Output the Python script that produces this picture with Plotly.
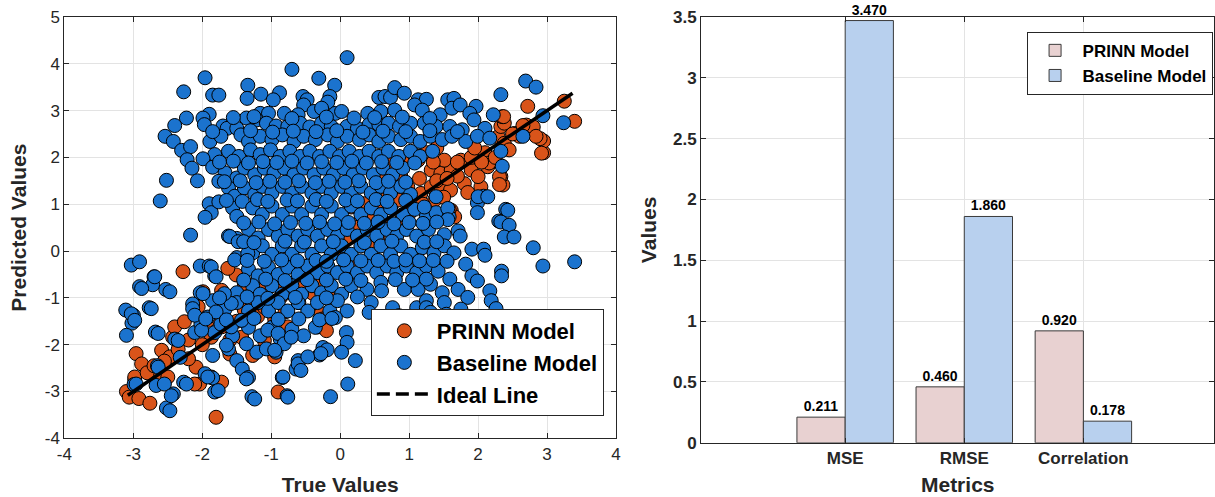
import plotly.graph_objects as go

# ---------------- Data ----------------
# PRINN model scatter points (true, predicted)
prinn_points = [
    (-3.10, -3.00), (-3.06, -3.12), (-2.98, -2.75), (-2.96, -2.19), (-2.88, -2.41), (-2.92, -3.15),
    (-2.76, -3.25), (-2.98, -2.69), (-2.64, -2.69), (-2.50, -2.69), (-2.59, -2.12), (-2.47, -2.26),
    (-2.43, -1.84), (-2.40, -1.62), (-2.26, -1.51), (-2.28, -0.44), (-2.09, -2.48), (-2.04, -2.84),
    (-2.11, -2.84), (-1.87, -2.69), (-1.72, -2.80), (-1.80, -3.55), (-0.90, -3.01), (-1.27, -2.23),
    (-0.95, -2.26), (-1.58, -1.05), (-1.39, -1.26), (-1.29, -1.23), (-1.14, -0.84), (-1.05, -0.41),
    (-1.00, -0.62), (-0.42, -0.26), (-0.52, -0.76), (-0.28, -1.34), (-0.32, -1.62), (-0.76, -1.62),
    (-1.10, -1.91), (-1.43, -1.84), (-1.72, -1.62), (-1.87, -1.84), (-1.92, -1.48), (-2.06, -1.19),
    (-1.72, -0.84), (-1.99, -0.87), (-1.39, -0.69), (-0.86, -0.98), (-1.51, -0.51), (-1.63, -0.37),
    (-2.80, -2.60), (-2.70, -2.45), (-2.55, -2.35), (-2.35, -2.10), (-2.20, -1.90), (-2.20, -2.30),
    (-2.00, -2.00), (-1.80, -1.40), (-1.60, -1.90), (-1.50, -1.50), (-1.60, -2.20), (-1.35, -1.55),
    (-1.20, -1.40), (-1.10, -1.20), (-0.95, -1.45), (-0.80, -1.30), (-0.70, -0.90), (-0.60, -1.10),
    (-0.50, -0.50), (-0.35, -0.70), (-0.20, -0.30), (-0.25, -1.45), (-0.20, -1.70), (-0.15, -1.00),
    (0.00, 0.00), (0.05, -0.40), (0.15, 0.30), (0.20, -0.20), (0.30, 0.50), (0.40, 0.10),
    (0.50, 0.80), (0.55, 0.30), (0.65, 0.60), (0.75, 1.00), (0.80, 0.50), (0.35, 1.01),
    (0.45, 0.73), (0.30, 0.66), (0.16, 0.94), (0.26, 0.51), (0.84, 1.09), (0.98, 1.37),
    (0.59, 1.51), (0.69, 1.87), (0.88, 1.59), (1.03, 1.94), (1.08, 2.05), (1.13, 1.94),
    (1.17, 1.23), (1.37, 1.09), (1.32, 1.37), (1.46, 1.37), (1.32, 1.73), (1.46, 1.66),
    (1.61, 1.73), (1.51, 1.94), (1.75, 1.94), (1.80, 1.44), (1.90, 1.73), (2.04, 1.37),
    (2.00, 1.59), (2.36, 1.41), (2.33, 1.59), (2.14, 1.80), (2.19, 1.94), (2.29, 2.44),
    (2.53, 2.51), (2.38, 2.30), (2.45, 2.16), (2.33, 2.66), (2.38, 2.73), (2.70, 2.69),
    (2.72, 3.09), (1.61, 0.87), (1.66, 0.73), (1.00, 0.80), (1.20, 1.00), (1.40, 1.50),
    (1.60, 1.30), (1.70, 1.60), (1.90, 2.00), (2.10, 2.10), (1.25, 2.10), (1.40, 2.20),
    (2.95, 2.10), (2.95, 2.35), (2.90, 2.40), (2.80, 2.65), (2.65, 2.68), (2.35, 2.87),
    (3.25, 3.20), (3.40, 2.77), (2.60, 2.45), (2.50, 2.50), (2.31, 1.59), (2.31, 1.42),
    (2.16, 1.88), (1.58, 0.89), (2.84, 2.45), (2.92, 2.09), (2.37, 2.87), (-0.60, -0.30),
    (-0.10, 0.20), (0.10, -0.10), (0.60, 0.90), (-0.40, -0.90), (0.90, 0.70), (-0.90, -0.70),
    (1.00, 1.20), (1.15, 1.55), (1.55, 1.55), (1.70, 1.90), (1.95, 2.20), (2.05, 1.90),
    (1.85, 1.25), (1.50, 1.15), (2.25, 2.00), (1.35, 1.90), (0.70, 1.20), (0.55, 1.05),
]

# Baseline model scatter points (true, predicted)
baseline_points = [
    (0.10, 4.13), (-0.70, 3.88), (-1.96, 3.70), (-0.31, 3.69),
    (-0.08, 3.54), (-1.34, 3.54), (-2.27, 3.40), (-1.85, 3.33), (-1.76, 3.33), (-1.15, 3.35),
    (-0.88, 3.38), (-1.35, 3.26), (-0.97, 3.23), (-0.54, 3.30), (-0.48, 3.23), (-0.15, 3.30),
    (-0.18, 3.18), (0.56, 3.28), (0.65, 3.30), (0.73, 3.28), (0.79, 3.49), (0.93, 3.37),
    (1.13, 3.23), (1.25, 3.24), (1.56, 3.23), (1.65, 3.26), (2.33, 3.34), (2.69, 3.63), (2.84, 3.50),
    (-0.53, 3.12), (-1.16, 2.94), (-1.04, 2.94), (-0.81, 2.94), (-0.61, 2.91), (-0.38, 2.98),
    (-0.27, 3.05), (-0.07, 2.94), (0.02, 2.98), (0.40, 2.94), (0.59, 2.98), (0.79, 3.01),
    (1.08, 3.12), (1.19, 3.01), (1.45, 2.91), (1.62, 3.05), (1.74, 3.12), (1.97, 3.09),
    (1.88, 2.94), (2.22, 2.91), (2.94, 2.89), (-1.90, 2.92), (-1.36, 2.84), (-2.23, 2.84),
    (-1.99, 2.84), (-1.97, 2.70), (-2.40, 2.68), (-1.70, 2.67), (-1.64, 2.62), (-1.50, 2.62),
    (-1.21, 2.80), (-1.07, 2.73), (-0.93, 2.67), (-0.76, 2.66), (-0.58, 2.73), (-0.44, 2.65),
    (-0.27, 2.73), (-0.13, 2.66), (0.10, 2.66), (0.25, 2.62), (0.42, 2.70), (0.56, 2.70),
    (0.70, 2.73), (0.86, 2.66), (1.02, 2.73), (1.22, 2.73), (1.39, 2.66), (1.59, 2.66),
    (1.77, 2.59), (1.94, 2.80), (2.10, 2.62), (3.24, 2.74), (2.65, 2.45), (-2.54, 2.45),
    (-2.42, 2.34), (-1.89, 2.34), (-1.73, 2.45), (-1.44, 2.48), (-1.33, 2.34), (-1.16, 2.45),
    (-0.99, 2.38), (-0.84, 2.48), (-0.67, 2.34), (-0.53, 2.45), (-0.36, 2.38), (-0.18, 2.48),
    (-0.04, 2.34), (0.10, 2.45), (0.28, 2.38), (0.42, 2.48), (0.56, 2.34), (0.70, 2.45),
    (0.88, 2.38), (1.02, 2.45), (1.16, 2.34), (1.31, 2.45), (1.48, 2.38), (1.62, 2.45),
    (1.82, 2.34), (1.99, 2.45), (2.17, 2.41),
    (-2.30, 2.15), (-2.17, 2.23), (-2.22, 1.95), (-1.82, 2.06), (-1.99, 1.97), (-1.62, 2.13),
    (-1.47, 2.02), (-1.30, 2.16), (-1.16, 2.06), (-1.01, 2.16), (-0.87, 2.02), (-0.73, 2.13),
    (-0.58, 2.02), (-0.44, 2.13), (-0.30, 2.02), (-0.15, 2.13), (-0.01, 2.02), (0.13, 2.13),
    (0.28, 2.02), (0.42, 2.13), (0.56, 2.02), (0.70, 2.13), (0.85, 2.02), (1.02, 2.13),
    (1.16, 2.02), (1.34, 2.13), (2.33, 2.13),
    (-2.15, 1.77), (-1.85, 1.79), (-2.07, 1.50), (-2.52, 1.51), (-1.67, 1.67), (-1.50, 1.56),
    (-1.39, 1.77), (-1.24, 1.63), (-1.10, 1.77), (-0.96, 1.67), (-0.81, 1.77), (-0.67, 1.63),
    (-0.53, 1.77), (-0.38, 1.63), (-0.24, 1.77), (-0.10, 1.63), (0.05, 1.77), (0.19, 1.63),
    (0.33, 1.77), (0.48, 1.63), (0.62, 1.77), (0.76, 1.63), (0.91, 1.77), (1.08, 1.88),
    (2.35, 1.81),
    (-1.76, 1.49), (-1.62, 1.35), (-1.53, 1.17), (-1.39, 1.35), (-1.24, 1.21), (-1.13, 1.38),
    (-0.99, 1.24), (-0.84, 1.38), (-0.70, 1.24), (-0.56, 1.38), (-0.41, 1.24), (-0.27, 1.38),
    (-0.13, 1.24), (0.02, 1.38), (0.16, 1.24), (0.30, 1.38), (0.45, 1.24), (0.59, 1.38),
    (0.73, 1.24), (0.88, 1.38), (1.02, 1.21), (1.39, 1.16), (2.08, 1.17),
    (-2.61, 1.07), (-1.90, 1.01), (-1.87, 0.82), (-1.96, 0.72), (-1.76, 1.05), (-1.56, 0.92),
    (-1.42, 1.06), (-1.50, 0.74), (-1.27, 0.92), (-1.13, 0.78), (-0.99, 0.96), (-0.84, 0.78),
    (-0.70, 0.96), (-0.56, 0.78), (-0.41, 0.96), (-0.27, 0.78), (-0.13, 0.96), (0.02, 0.78),
    (0.16, 0.96), (0.30, 0.78), (0.45, 0.92), (0.59, 0.78), (0.73, 0.92), (0.91, 0.78),
    (1.08, 0.89), (1.25, 0.74), (1.39, 0.82), (1.99, 1.03), (1.99, 0.82), (2.40, 0.89), (2.30, 0.64),
    (2.00, 1.16), (2.14, 1.16), (2.43, 0.87), (2.33, 0.62), (1.58, 0.73), (1.56, 0.91), (1.22, 0.94),
    (-2.17, 0.34), (-1.62, 0.32), (-1.50, 0.27), (-1.33, 0.46), (-1.19, 0.28), (-1.04, 0.46),
    (-0.90, 0.32), (-0.76, 0.46), (-0.61, 0.32), (-0.47, 0.46), (-0.33, 0.32), (-0.18, 0.46),
    (-0.04, 0.32), (0.10, 0.46), (0.25, 0.32), (0.39, 0.46), (0.53, 0.32), (0.68, 0.46),
    (0.82, 0.32), (0.96, 0.46), (1.11, 0.32), (1.28, 0.46), (1.56, 0.67), (1.51, 0.35),
    (1.71, 0.43), (1.74, 0.32), (2.45, 0.55), (2.38, 0.30), (2.52, 0.30),
    (-1.50, -0.14), (-1.27, -0.04), (-1.13, 0.11), (-0.99, -0.07), (-0.84, 0.11), (-0.70, -0.07),
    (-0.56, 0.11), (-0.41, -0.07), (-0.27, 0.11), (-0.13, -0.07), (0.02, 0.11), (0.16, -0.07),
    (0.30, 0.11), (0.45, -0.07), (0.59, 0.11), (0.73, -0.07), (0.88, 0.11), (1.02, -0.07),
    (1.19, 0.07), (1.36, -0.04), (1.51, 0.11), (1.65, -0.04), (1.91, 0.04), (2.08, 0.04),
    (2.10, -0.09), (2.80, 0.07), (1.82, -0.28),
    (-3.03, -0.30), (-2.91, -0.23), (-2.03, -0.32), (-1.90, -0.32), (-1.82, -0.53), (-1.33, -0.39),
    (-1.19, -0.53), (-1.04, -0.35), (-0.90, -0.50), (-0.76, -0.35), (-0.61, -0.50), (-0.47, -0.32),
    (-0.33, -0.46), (-0.18, -0.32), (-0.04, -0.46), (0.10, -0.32), (0.25, -0.46), (0.39, -0.32),
    (0.53, -0.46), (0.68, -0.32), (0.82, -0.46), (0.96, -0.32), (1.11, -0.46), (1.25, -0.32),
    (1.42, -0.43), (1.59, -0.60), (1.91, -0.53), (1.99, -0.64), (2.34, -0.43), (2.34, -0.53),
    (2.94, -0.32), (3.40, -0.23),
    (-2.91, -0.76), (-2.70, -0.55), (-2.72, -0.72), (-2.53, -0.82), (-2.03, -0.89), (-1.50, -0.89),
    (-1.27, -0.74), (-1.16, -0.92), (-0.99, -0.74), (-0.84, -0.92), (-0.70, -0.74), (-0.56, -0.92),
    (-0.41, -0.74), (-0.27, -0.89), (-0.13, -0.74), (0.02, -0.92), (0.16, -0.74), (0.39, -0.82),
    (0.59, -0.67), (0.60, -0.85), (0.93, -0.82), (1.13, -0.82), (1.31, -0.71), (1.48, -0.89),
    (1.71, -0.82), (1.85, -0.99), (2.17, -0.85),
    (-2.77, -1.21), (-3.11, -1.26), (-3.00, -1.37), (-2.14, -1.13), (-1.85, -1.06), (-1.67, -1.24),
    (-1.50, -1.10), (-1.33, -1.28), (-1.19, -1.10), (-1.04, -1.28), (-0.90, -1.10), (-0.76, -1.28),
    (-0.61, -1.10), (-0.47, -1.28), (-0.33, -1.10), (-0.15, -1.28), (-0.04, -1.06), (0.10, -1.28),
    (0.45, -1.10), (0.42, -1.31), (0.76, -1.21), (0.85, -1.38), (1.11, -1.21), (1.25, -1.06),
    (1.25, -1.21), (1.31, -1.31), (1.51, -1.10), (1.54, -1.35), (1.75, -1.24), (2.19, -1.06),
    (2.26, -1.23),
    (-3.02, -1.54), (-3.10, -1.80), (-2.68, -1.73), (-2.40, -1.88), (-2.11, -1.74), (-2.02, -1.56),
    (-1.82, -1.74), (-1.73, -1.56), (-1.56, -1.81), (-1.33, -1.63), (-1.16, -1.81), (-0.99, -1.63),
    (-0.87, -1.88), (-0.70, -1.67), (-0.53, -1.81), (-0.36, -1.63), (-0.07, -1.42), (0.09, -1.74),
    (0.10, -1.95),
    (-2.32, -2.27), (-1.96, -2.62), (-1.85, -2.23), (-1.62, -2.09), (-1.50, -2.34), (-1.42, -2.52),
    (-1.21, -2.16), (-1.07, -2.09), (-0.93, -2.16), (-0.64, -2.52), (-0.61, -2.34), (-0.30, -2.22),
    (-0.25, -2.06), (-0.19, -2.11), (0.02, -2.16), (0.22, -2.34), (-2.65, -2.45),
    (-2.67, -2.87), (-2.99, -2.85), (-2.52, -3.35), (-2.42, -3.05), (-2.27, -2.80), (-1.82, -3.01),
    (-1.85, -2.71), (-1.33, -2.70), (-1.28, -3.11), (-0.84, -2.70), (-0.77, -3.09), (-0.14, -3.11),
    (0.11, -2.84),
    (-1.60, 0.31), (-1.48, 0.20), (-2.69, -0.55), (-2.47, -0.87), (-2.88, -0.80), (-1.87, -0.34),
    (-1.80, -0.55), (-1.99, -0.91), (-2.74, -1.23), (-3.03, -1.34), (-2.98, -1.48), (-2.14, -1.23),
    (-2.11, -1.37), (-1.92, -1.41), (-1.80, -1.30), (-1.58, -1.12), (-1.68, -0.91), (-1.53, -0.19),
    (-1.34, -0.05), (-2.64, -1.76), (-2.35, -1.91), (-2.01, -1.69), (-1.65, -2.01), (-1.36, -1.98),
    (-1.58, -1.62), (-1.43, -1.48), (-1.05, -1.69), (-0.90, -1.76), (-0.81, -1.98), (-0.71, -1.84),
    (-0.95, -2.12), (-2.64, -2.48), (-2.96, -2.84), (-2.55, -2.84), (-2.23, -2.84), (-1.92, -2.69),
    (-1.77, -2.98), (-2.45, -3.09), (-2.47, -3.41), (-1.36, -2.73), (-1.24, -3.16), (-0.83, -2.69),
    (-0.76, -3.12), (-0.61, -2.41), (-0.57, -2.55), (-0.47, -2.26), (-0.28, -2.19),
    # in-between rows of the dense core
    (-1.55, 2.85), (-1.25, 2.87), (-0.70, 2.83), (-0.20, 2.86), (0.20, 2.84), (0.50, 2.85),
    (0.90, 2.86), (1.30, 2.83),
    (-1.85, 2.55), (-1.30, 2.57), (-0.98, 2.54), (-0.68, 2.56), (-0.35, 2.55), (-0.05, 2.57),
    (0.33, 2.54), (0.62, 2.56), (0.95, 2.55), (1.30, 2.57), (1.70, 2.55),
    (-1.75, 1.90), (-1.55, 1.92), (-1.33, 1.88), (-1.12, 1.91), (-0.92, 1.89), (-0.70, 1.92),
    (-0.48, 1.88), (-0.27, 1.91), (-0.05, 1.89), (0.17, 1.92), (0.38, 1.88), (0.60, 1.91),
    (0.82, 1.89),
    (-1.68, 1.48), (-1.45, 1.50), (-1.22, 1.46), (-1.02, 1.49), (-0.80, 1.47), (-0.60, 1.50),
    (-0.36, 1.46), (-0.16, 1.49), (0.07, 1.47), (0.27, 1.50), (0.52, 1.46), (0.70, 1.49),
    (0.95, 1.47),
    (-1.65, 1.08), (-1.20, 1.10), (-1.05, 1.06), (-0.77, 1.09), (-0.62, 1.07), (-0.35, 1.10),
    (-0.20, 1.06), (0.08, 1.09), (0.25, 1.07), (0.52, 1.10), (0.68, 1.06), (0.95, 1.08),
    (-1.40, 0.60), (-1.18, 0.62), (-0.95, 0.58), (-0.72, 0.61), (-0.50, 0.59), (-0.30, 0.62),
    (-0.08, 0.58), (0.12, 0.61), (0.35, 0.59), (0.55, 0.62), (0.78, 0.58), (1.00, 0.61),
    (1.20, 0.59), (1.40, 0.62),
    (-1.40, 0.20), (-1.25, 0.18), (-0.80, 0.21), (-0.52, 0.19), (-0.10, 0.20), (0.35, 0.18),
    (0.75, 0.21), (1.22, 0.19), (1.40, 0.20),
    (-1.35, -0.20), (-1.10, -0.22), (-0.85, -0.19), (-0.62, -0.21), (-0.35, -0.20), (-0.20, -0.22),
    (0.05, -0.19), (0.30, -0.21), (0.55, -0.20), (0.78, -0.22), (0.95, -0.19), (1.15, -0.21),
    (1.35, -0.20), (1.55, -0.22),
    (-1.40, -0.62), (-1.08, -0.60), (-0.80, -0.63), (-0.48, -0.61), (-0.20, -0.62), (0.08, -0.60),
    (0.30, -0.63), (0.80, -0.61), (1.05, -0.62), (1.25, -0.60),
    (-1.75, -1.00), (-1.35, -0.98), (-1.05, -1.01), (-0.65, -0.99), (-0.20, -1.00), (0.25, -0.98),
    (-1.95, -1.45), (-1.65, -1.47), (-1.25, -1.44), (-0.90, -1.46), (-0.60, -1.45), (-0.30, -1.47),
    (-0.12, -1.44),
]

# Ideal line (y = x) spanning the range of true values
ideal_x = [-3.08, 3.37]
ideal_y = [-3.08, 3.37]

# Bar chart data
metrics = ["MSE", "RMSE", "Correlation"]
metric_pos = [1, 2, 3]
prinn_vals = [0.211, 0.460, 0.920]
baseline_vals = [3.470, 1.860, 0.178]

scatter_ticks_x = [-4, -3, -2, -1, 0, 1, 2, 3, 4]
scatter_ticks_y = [-4, -3, -2, -1, 0, 1, 2, 3, 4, 5]
bar_ticks_y = [0, 0.5, 1, 1.5, 2, 2.5, 3, 3.5]

# ---------------- Styles ----------------
FONT = "Liberation Sans, Arial, Helvetica, sans-serif"
AX = "#262626"
GRID = "#e3e3e3"
ORANGE = "#D9541A"
BLUE = "#1B73CE"
PINK = "#E8D1D1"
LIGHTBLUE = "#B8D0EE"

px, py = zip(*prinn_points)
bx, by = zip(*baseline_points)

fig = go.Figure()
fig.add_trace(go.Scatter(x=px, y=py, mode="markers", name="PRINN Model",
                         marker=dict(size=14, color=ORANGE, line=dict(color="black", width=1)),
                         xaxis="x", yaxis="y", legend="legend"))
fig.add_trace(go.Scatter(x=bx, y=by, mode="markers", name="Baseline Model",
                         marker=dict(size=14, color=BLUE, line=dict(color="black", width=1)),
                         xaxis="x", yaxis="y", legend="legend"))
fig.add_trace(go.Scatter(x=ideal_x, y=ideal_y, mode="lines", name="Ideal Line",
                         line=dict(color="black", width=3.5), showlegend=False,
                         xaxis="x", yaxis="y"))
fig.add_trace(go.Scatter(x=[None], y=[None], mode="lines", name="Ideal Line",
                         line=dict(color="black", width=3.5, dash="13px,6px"),
                         xaxis="x", yaxis="y", legend="legend"))

fig.add_trace(go.Bar(x=metric_pos, y=prinn_vals, name="PRINN Model",
                     marker=dict(color=PINK, line=dict(color="#3a3a3a", width=1)),
                     text=prinn_vals, texttemplate="%{y:.3f}", textposition="outside",
                     cliponaxis=False, constraintext="none",
                     textfont=dict(family=FONT, size=14, color="black", weight="bold"),
                     xaxis="x2", yaxis="y2", legend="legend2"))
fig.add_trace(go.Bar(x=metric_pos, y=baseline_vals, name="Baseline Model",
                     marker=dict(color=LIGHTBLUE, line=dict(color="#3a3a3a", width=1)),
                     text=baseline_vals, texttemplate="%{y:.3f}", textposition="outside",
                     cliponaxis=False, constraintext="none",
                     textfont=dict(family=FONT, size=14, color="black", weight="bold"),
                     xaxis="x2", yaxis="y2", legend="legend2"))

axis_common = dict(showgrid=True, gridcolor=GRID, gridwidth=1, zeroline=False,
                   showline=True, linecolor=AX, linewidth=1, mirror="ticks",
                   ticks="inside", ticklen=5, tickcolor=AX, automargin=False)

fig.update_layout(
    width=1215, height=497,
    margin=dict(l=0, r=0, t=0, b=0),
    paper_bgcolor="white", plot_bgcolor="white",
    font=dict(family=FONT, color=AX),
    barmode="group", bargap=0.19, bargroupgap=0,
    xaxis=dict(domain=[0.053, 0.507], range=[-4, 4],
               tickvals=scatter_ticks_x, ticktext=[str(v) for v in scatter_ticks_x],
               tickfont=dict(size=17, color=AX),
               title=dict(text="True Values", font=dict(size=21, weight="bold", color=AX), standoff=14),
               anchor="y", **axis_common),
    yaxis=dict(domain=[0.118, 0.966], range=[-4, 5],
               tickvals=scatter_ticks_y, ticktext=[str(v) for v in scatter_ticks_y],
               tickfont=dict(size=17, color=AX),
               title=dict(text="Predicted Values", font=dict(size=21, weight="bold", color=AX), standoff=12),
               anchor="x", **axis_common),
    xaxis2=dict(domain=[0.577, 0.9995], range=[-0.21, 4.1],
                tickvals=metric_pos, ticktext=metrics,
                tickfont=dict(size=17, color=AX, weight="bold"),
                title=dict(text="Metrics", font=dict(size=21, weight="bold", color=AX), standoff=10),
                anchor="y2", **axis_common),
    yaxis2=dict(domain=[0.109, 0.966], range=[0, 3.5],
                tickvals=bar_ticks_y, ticktext=[f"{v:g}" for v in bar_ticks_y],
                tickfont=dict(size=17, color=AX, weight="bold"),
                title=dict(text="Values", font=dict(size=21, weight="bold", color=AX), standoff=10),
                anchor="x2", **axis_common),
    legend=dict(x=0.497, xanchor="right", y=0.163, yanchor="bottom",
                bgcolor="white", bordercolor=AX, borderwidth=1,
                font=dict(size=22, weight="bold", color="black"),
                itemwidth=55, tracegroupgap=0),
    legend2=dict(x=0.998, xanchor="right", y=0.936, yanchor="top",
                 bgcolor="white", bordercolor=AX, borderwidth=1,
                 font=dict(size=17, weight="bold", color="black"),
                 itemwidth=45, tracegroupgap=0),
    showlegend=True,
)

fig.write_html("out.html")
